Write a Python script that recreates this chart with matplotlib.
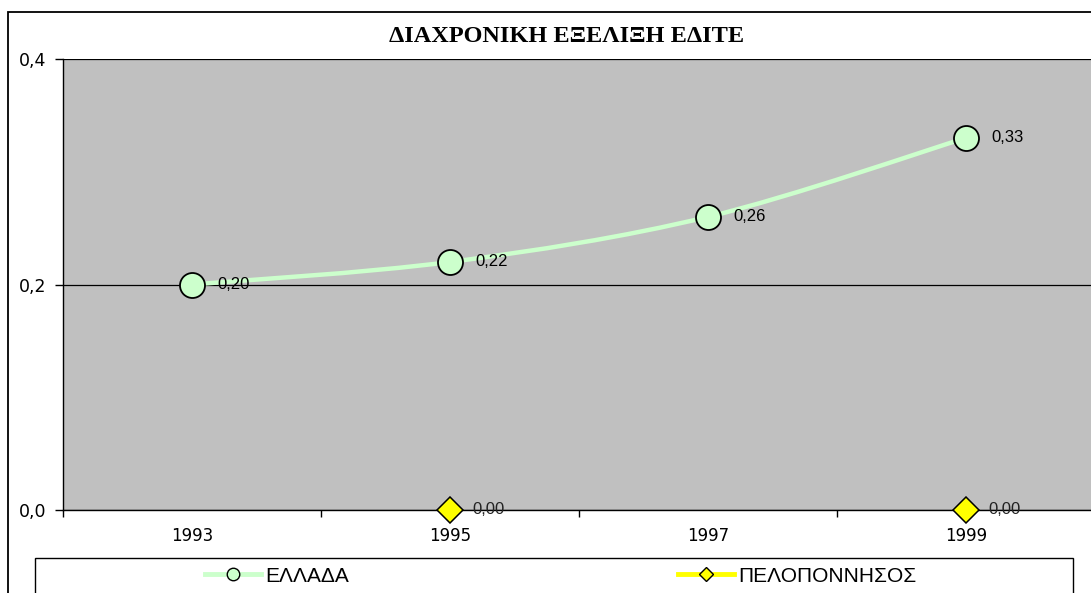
import numpy as np
import matplotlib
matplotlib.use("Agg")
import matplotlib.pyplot as plt
from matplotlib.path import Path
from matplotlib.patches import PathPatch, Rectangle
from matplotlib.lines import Line2D

# series values per year (None = no value for that year)
years = ["1993", "1995", "1997", "1999"]
ellada = [0.20, 0.22, 0.26, 0.33]
peloponnisos = [None, 0.00, None, 0.00]
series_names = ["ΕΛΛΑΔΑ", "ΠΕΛΟΠΟΝΝΗΣΟΣ"]
yticks = [0.0, 0.2, 0.4]

W, H = 1091, 593
fig = plt.figure(figsize=(W / 100, H / 100), dpi=100)
fig.patch.set_facecolor("white")

# outer chart frame (runs past the right and bottom edges)
fig.patches.append(Rectangle((8 / W, -0.1), 1.2, 1 - 12 / H + 0.1,
                             transform=fig.transFigure, fill=False,
                             ec="black", lw=1.3))

ax = fig.add_axes([63 / W, (H - 510) / H, (1095 - 63) / W, (510 - 59) / H])
ax.set_facecolor("#C0C0C0")
x = np.arange(len(years)) + 0.5

# smoothed line through the ELLADA points (Catmull-Rom -> cubic Bezier)
pts = np.column_stack([x, ellada])
ext = np.vstack([pts[0], pts, pts[-1]])
verts = [tuple(pts[0])]
codes = [Path.MOVETO]
for i in range(len(pts) - 1):
    p0, p1, p2, p3 = ext[i], ext[i + 1], ext[i + 2], ext[i + 3]
    c1 = p1 + (p2 - p0) / 6
    c2 = p2 - (p3 - p1) / 6
    verts += [tuple(c1), tuple(c2), tuple(p2)]
    codes += [Path.CURVE4] * 3
ax.add_patch(PathPatch(Path(verts, codes), fill=False, ec="#CCFFCC",
                       lw=3.2, zorder=3, capstyle="round"))
ax.plot(x, ellada, ls="none", marker="o", ms=18, mfc="#CCFFCC",
        mec="black", mew=1.3, zorder=4)

pel = np.array([np.nan if v is None else v for v in peloponnisos])
ax.plot(x, pel, color="#FFFF00", lw=3, marker="D", ms=13.5,
        mfc="#FFFF00", mec="black", mew=1.1, zorder=5, clip_on=False)

for xi, v in zip(x, ellada):
    ax.annotate(f"{v:.2f}".replace(".", ","), (xi, v), xytext=(18, 0),
                textcoords="offset points", va="center", ha="left",
                fontsize=12, family="Liberation Sans", zorder=6)
for xi, v in zip(x, pel):
    if not np.isnan(v):
        ax.annotate(f"{v:.2f}".replace(".", ","), (xi, v), xytext=(16, 0),
                    textcoords="offset points", va="center", ha="left",
                    fontsize=12, family="Liberation Sans", color="#222222",
                    zorder=6, annotation_clip=False)

ax.set_xlim(0, len(years))
ax.set_ylim(0, 0.4)
ax.set_yticks(yticks)
ax.set_yticklabels([f"{t:.1f}".replace(".", ",") for t in yticks],
                   fontsize=12.5, family="DejaVu Sans")
ax.tick_params(axis="y", direction="out", length=6, width=1, pad=6)
ax.set_xticks(np.arange(len(years) + 1))
ax.set_xticklabels([])
ax.set_xticks(x, minor=True)
ax.set_xticklabels(years, minor=True, fontsize=12, family="DejaVu Sans")
ax.tick_params(axis="x", which="major", direction="out", length=5, width=1)
ax.tick_params(axis="x", which="minor", length=0, pad=12)
ax.yaxis.grid(True, color="black", lw=0.9)
ax.set_axisbelow(True)
for s in ["top", "right"]:
    ax.spines[s].set_visible(False)
for s in ["left", "bottom"]:
    ax.spines[s].set_color("black")
    ax.spines[s].set_linewidth(1)

fig.text(567 / W, 1 - 37 / H, "ΔΙΑΧΡΟΝΙΚΗ ΕΞΕΛΙΞΗ ΕΔΙΤΕ", ha="center",
         va="center", fontsize=17.5, fontweight="bold",
         family="Liberation Serif")

# legend box with one entry centred in each half
fig.patches.append(Rectangle((35 / W, -0.1), (1073 - 35) / W,
                             (H - 558) / H + 0.1, transform=fig.transFigure,
                             fill=False, ec="black", lw=1))
h1 = Line2D([], [], color="#CCFFCC", lw=3.5, marker="o", ms=9,
            mfc="#CCFFCC", mec="black", mew=1)
h2 = Line2D([], [], color="#FFFF00", lw=3.5, marker="D", ms=7,
            mfc="#FFFF00", mec="black", mew=1)
for h, name, cx in [(h1, series_names[0], 277), (h2, series_names[1], 797)]:
    fig.legend([h], [name], loc="center", bbox_to_anchor=(cx / W, 1 - 576 / H),
               frameon=False, handlelength=2.7, handletextpad=0.2,
               prop={"family": "Liberation Sans", "size": 15})

fig.savefig("out.png", dpi=100)
